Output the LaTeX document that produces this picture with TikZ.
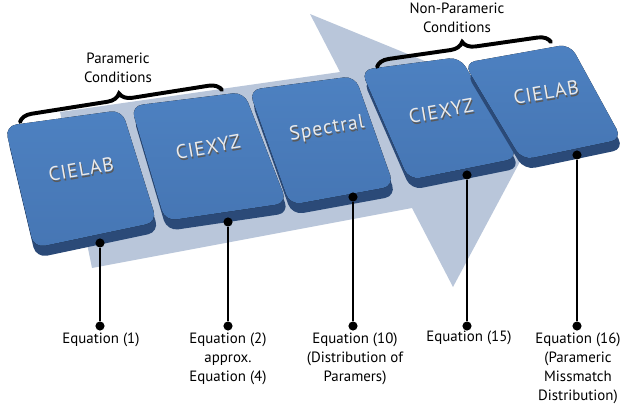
\documentclass[tikz,border=0pt]{standalone}
\usepackage{fontspec}
\setmainfont{PT Sans}
\newfontfamily\keyfont[LetterSpace=5]{PT Sans}
\usetikzlibrary{decorations.pathreplacing}
\definecolor{arrowblue}{HTML}{B9C6DA}
\definecolor{keytop}{HTML}{4D81C1}
\definecolor{keyblue}{HTML}{4676B4}
\definecolor{keydark}{HTML}{2B4A78}
\tikzset{
  keyface/.style={rounded corners=8pt, top color=keytop, bottom color=keyblue},
  keyside/.style={rounded corners=8pt, fill=keydark},
  keytext/.style={text=white!92!black, rotate=10, font=\keyfont\fontsize{14}{16}\selectfont},
  keyshadow/.style={text=black!65, rotate=10, font=\keyfont\fontsize{14}{16}\selectfont},
  pin/.style={circle, fill=black, inner sep=0pt, minimum size=6.5pt},
  leader/.style={line width=1.8pt},
  eqlabel/.style={align=center, anchor=north, inner sep=0pt, font=\fontsize{10.6}{13.3}\selectfont},
  bracket/.style={decorate, decoration={brace, amplitude=9pt}, line width=2.8pt, line cap=round},
  bracelabel/.style={align=center, inner sep=0pt, font=\fontsize{10.6}{13.3}\selectfont},
}
\begin{document}
\begin{tikzpicture}[x=0.025cm, y=-0.025cm]
\useasboundingbox (0,0) rectangle (620,409);
% big arrow behind the keys
\fill[arrowblue] (60,112) -- (340,72) -- (310,14) -- (547,111) -- (453,287) -- (412,208) -- (92,268) -- cycle;

% key 1
\fill[keyside] (7,136) -- (124,120) -- (159,232) -- (36,258) -- cycle;
\fill[keyface] (5,126) -- (122,110) -- (157,222) -- (34,248) -- cycle;
% key 2
\fill[keyside] (133,116) -- (246,102) -- (289,213) -- (167,231) -- cycle;
\fill[keyface] (131,106) -- (244,92) -- (287,203) -- (165,221) -- cycle;
% key 3
\fill[keyside] (251,100) -- (357,86) -- (396,196) -- (292,215) -- cycle;
\fill[keyface] (249,90) -- (355,76) -- (394,186) -- (290,205) -- cycle;
% key 4
\fill[keyside] (363,80) -- (462,67) -- (520,168) -- (411,190) -- cycle;
\fill[keyface] (361,70) -- (460,57) -- (518,158) -- (409,180) -- cycle;
% key 5
\fill[keyside] (466,73) -- (572,54) -- (624,149) -- (524,170) -- cycle;
\fill[keyface] (464,63) -- (570,44) -- (622,139) -- (522,160) -- cycle;

% key names
\node[keyshadow] at (82,171) {CIELAB};
\node[keytext] (k1) at (81,169) {CIELAB};
\node[keyshadow] at (209,149) {CIEXYZ};
\node[keytext] (k2) at (208,147) {CIEXYZ};
\node[keyshadow] at (328,131) {Spectral};
\node[keytext] (k3) at (327,129) {Spectral};
\node[keyshadow] at (442,113) {CIEXYZ};
\node[keytext] (k4) at (441,111) {CIEXYZ};
\node[keyshadow] at (547,94) {CIELAB};
\node[keytext] (k5) at (546,92) {CIELAB};

% braces
\coordinate (pl) at (20,122);
\coordinate (pr) at (222,90);
\draw[bracket] (pl) -- (pr);
\node[bracelabel] (pc) at (118,68) {Parameric\\Conditions};
\coordinate (nl) at (377,67);
\coordinate (nr) at (551,42);
\draw[bracket] (nl) -- (nr);
\node[bracelabel] (nc) at (457,18) {Non-Parameric\\Conditions};

% leaders
\node[pin] (t1) at (100,243) {};
\node[pin] (b1) at (100,326) {};
\draw[leader] (t1) -- (b1);
\node[pin] (t2) at (228,222) {};
\node[pin] (b2) at (228,326) {};
\draw[leader] (t2) -- (b2);
\node[pin] (t3) at (353,197) {};
\node[pin] (b3) at (353,326) {};
\draw[leader] (t3) -- (b3);
\node[pin] (t4) at (467,175) {};
\node[pin] (b4) at (467,326) {};
\draw[leader] (t4) -- (b4);
\node[pin] (t5) at (577,155) {};
\node[pin] (b5) at (577,326) {};
\draw[leader] (t5) -- (b5);

% equation labels
\node[eqlabel] (e1) at (101,333) {Equation (1)};
\node[eqlabel] (e2) at (228,333) {Equation (2)\\approx.\\Equation (4)};
\node[eqlabel] (e3) at (355,333) {Equation (10)\\(Distribution of\\Paramers)};
\node[eqlabel] (e4) at (469,331) {Equation (15)};
\node[eqlabel] (e5) at (578,333) {Equation (16)\\(Parameric\\Missmatch\\Distribution)};
\end{tikzpicture}
\end{document}
